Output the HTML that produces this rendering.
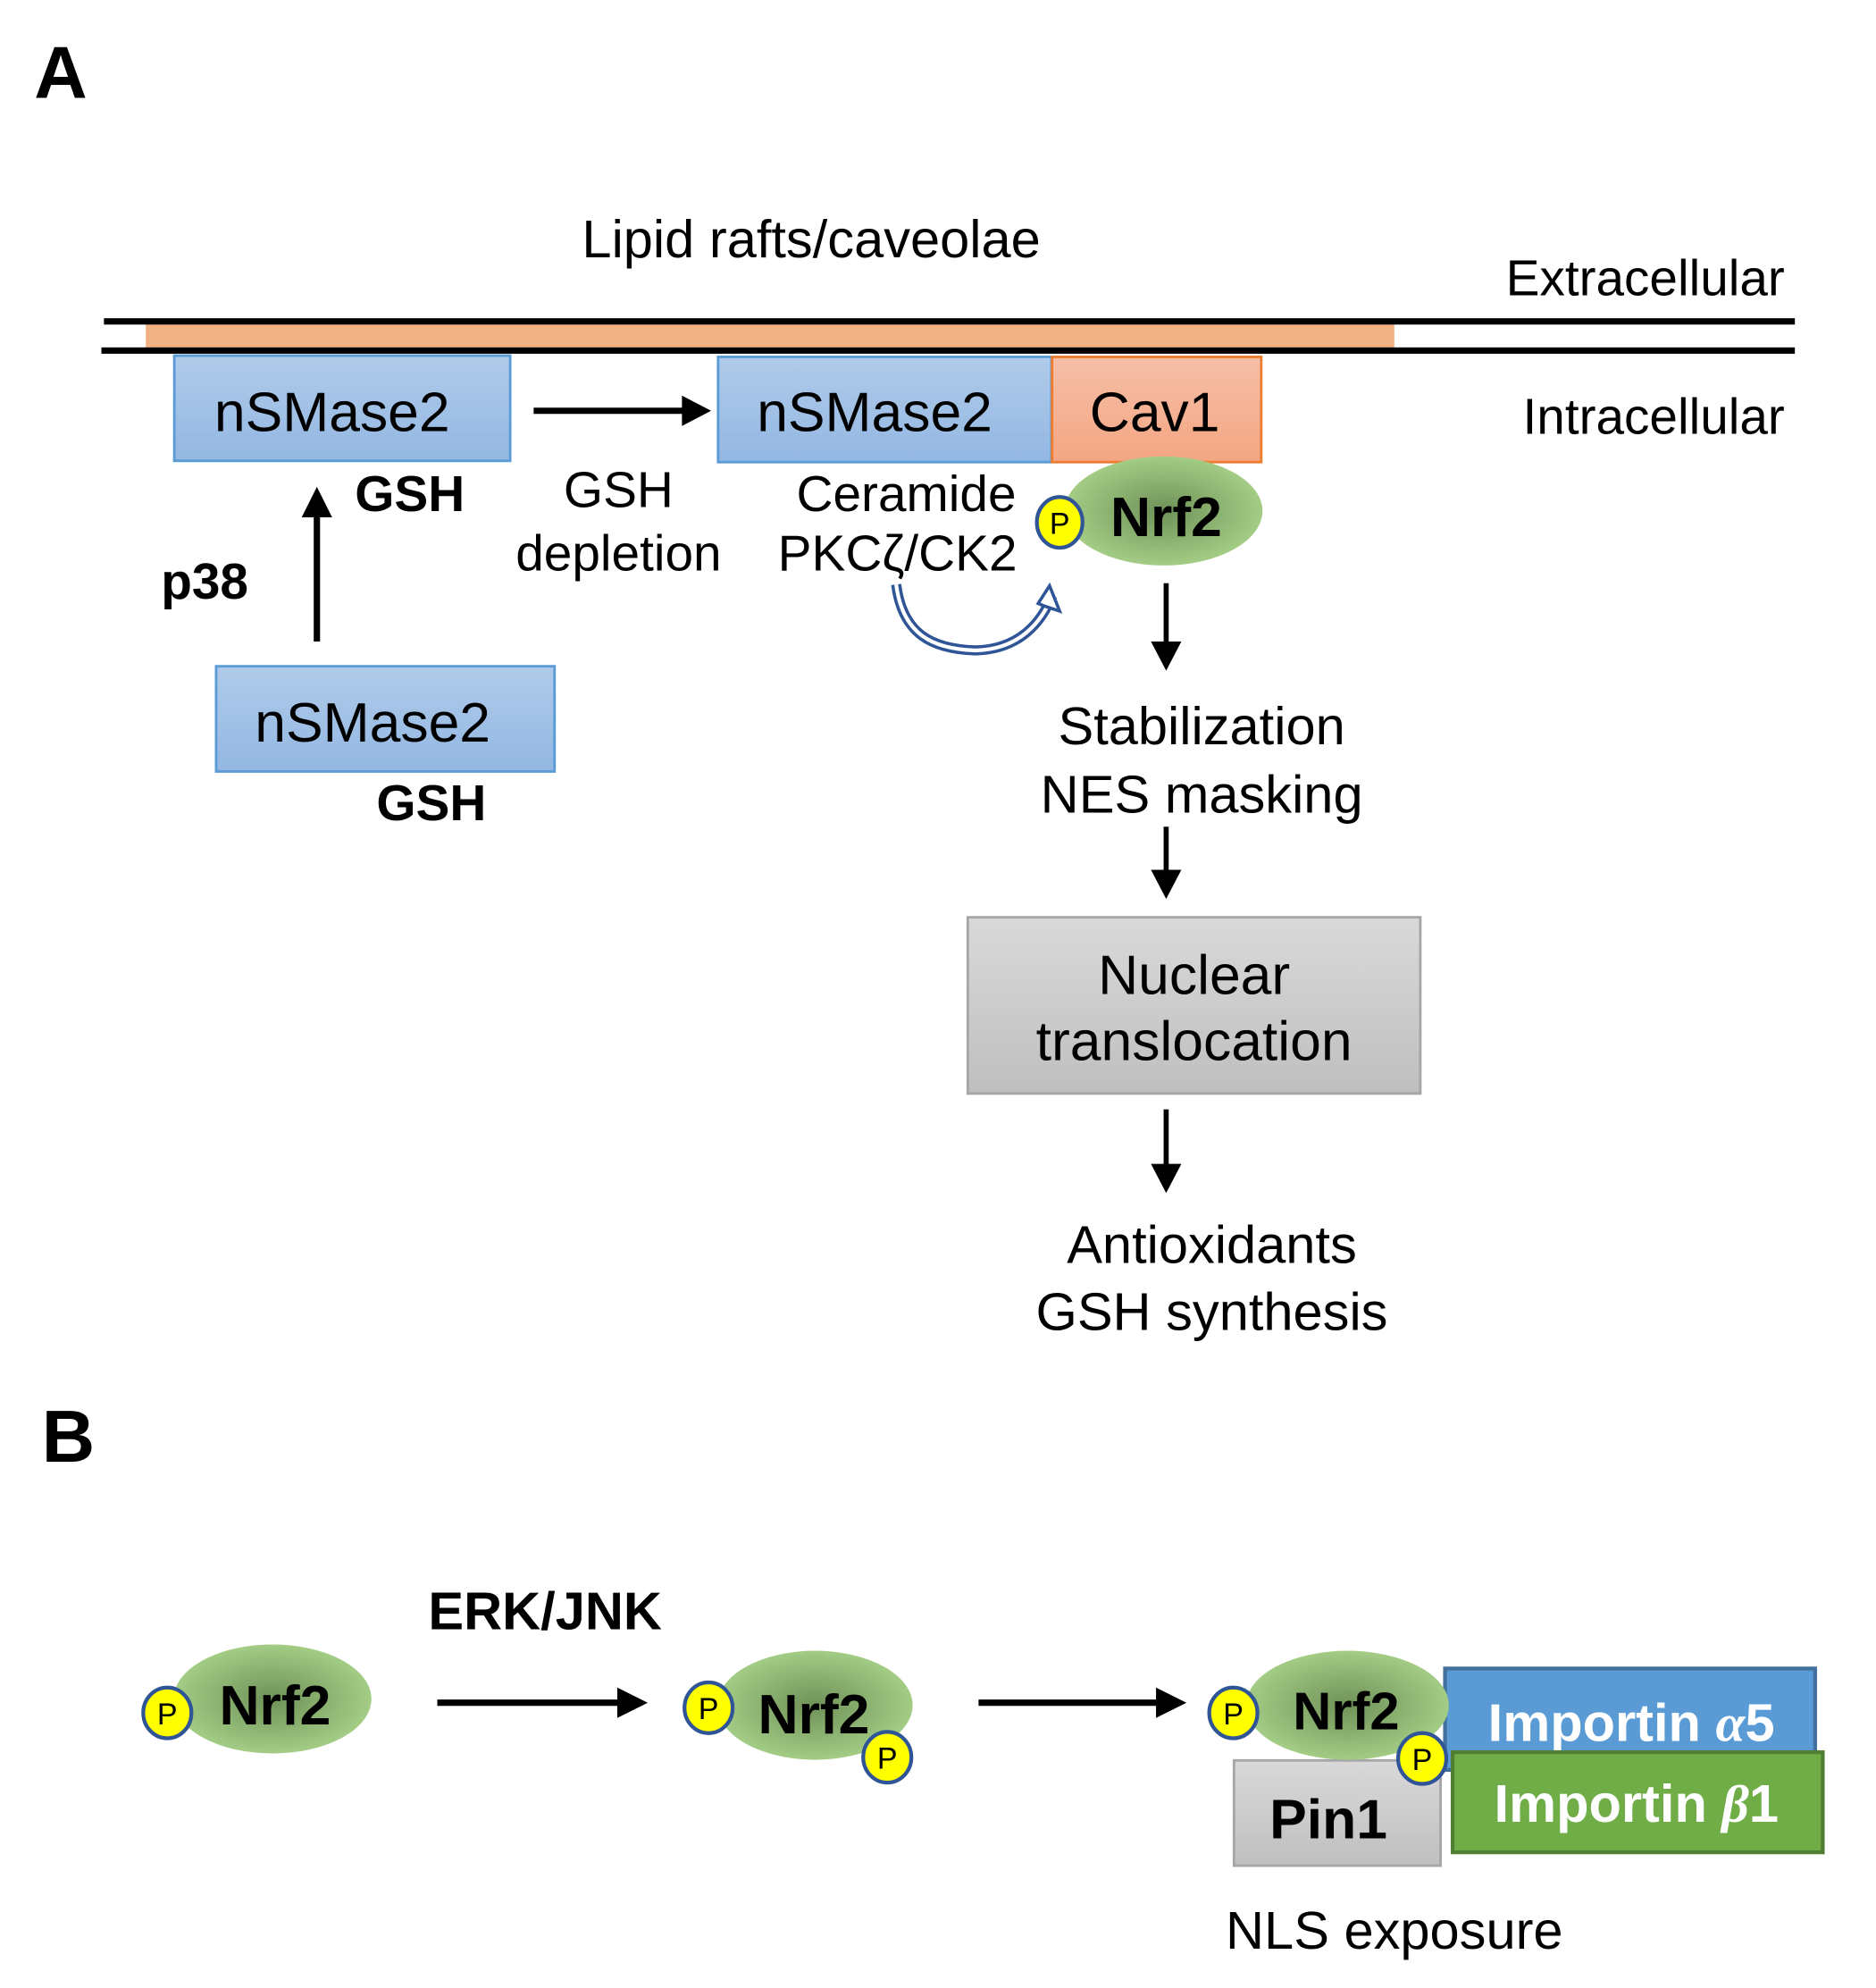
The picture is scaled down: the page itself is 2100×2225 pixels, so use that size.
<!DOCTYPE html>
<html><head><meta charset="utf-8"><style>html,body{margin:0;padding:0;background:#fff}svg{display:block}</style></head>
<body>
<svg width="2100" height="2225" viewBox="0 0 1480 1568" preserveAspectRatio="none" xmlns="http://www.w3.org/2000/svg" font-family="Liberation Sans, Arial, sans-serif">
<defs>
<linearGradient id="bl" x1="0" y1="0" x2="0" y2="1"><stop offset="0" stop-color="#b0cbea"/><stop offset="1" stop-color="#93b7e2"/></linearGradient>
<linearGradient id="or" x1="0" y1="0" x2="0" y2="1"><stop offset="0" stop-color="#f6bfa8"/><stop offset="1" stop-color="#f4a682"/></linearGradient>
<linearGradient id="gr" x1="0" y1="0" x2="0" y2="1"><stop offset="0" stop-color="#d9d9d9"/><stop offset="1" stop-color="#bfbfbf"/></linearGradient>
<radialGradient id="nr" cx="0.5" cy="0.5" r="0.5"><stop offset="0" stop-color="#6f9258"/><stop offset="1" stop-color="#a3cc85"/></radialGradient>
</defs>
<g font-weight="bold" font-size="58"><text x="27" y="77">A</text><text x="33" y="1153">B</text></g>

<text x="640" y="203" font-size="42" text-anchor="middle">Lipid rafts/caveolae</text>
<text x="1408" y="233" font-size="40" text-anchor="end">Extracellular</text>
<text x="1408" y="342" font-size="40" text-anchor="end">Intracellular</text>

<rect x="115" y="255" width="985" height="20" fill="#f2b183"/>
<rect x="82" y="251" width="1334" height="5" fill="#000"/>
<rect x="80" y="274" width="1336" height="5" fill="#000"/>

<rect x="137.5" y="280.5" width="265" height="83" fill="url(#bl)" stroke="#5b9bd5" stroke-width="2"/>
<text x="262" y="340" font-size="44" text-anchor="middle">nSMase2</text>
<rect x="566.5" y="281.5" width="263" height="83" fill="url(#bl)" stroke="#5b9bd5" stroke-width="2"/>
<text x="690" y="340" font-size="44" text-anchor="middle">nSMase2</text>
<rect x="830" y="281.5" width="165" height="83" fill="url(#or)" stroke="#ed7d31" stroke-width="2"/>
<text x="911" y="340" font-size="44" text-anchor="middle">Cav1</text>

<line x1="421" y1="324" x2="540" y2="324" stroke="#000" stroke-width="5"/>
<polygon points="538,312 561,324 538,336" fill="#000"/>

<text x="280" y="403" font-size="40" font-weight="bold">GSH</text>
<text x="488" y="400" font-size="40" text-anchor="middle">GSH</text>
<text x="488" y="450" font-size="40" text-anchor="middle">depletion</text>
<text x="715" y="403" font-size="40" text-anchor="middle">Ceramide</text>
<text x="708" y="450" font-size="40" text-anchor="middle">PKCζ/CK2</text>

<path d="M707,461 C712,500 735,512 770,513 C805,512 822,490 830,470" fill="none" stroke="#2f5597" stroke-width="8"/>
<path d="M707,461 C712,500 735,512 770,513 C805,512 822,490 830,470" fill="none" stroke="#fff" stroke-width="3"/>
<polygon points="828,462 836,482 824,478 819,476" fill="#fff" stroke="#2f5597" stroke-width="2.5"/>

<ellipse cx="918" cy="403" rx="78" ry="43" fill="url(#nr)"/>
<text x="920" y="423" font-size="44" font-weight="bold" text-anchor="middle">Nrf2</text>
<ellipse cx="836" cy="412" rx="18" ry="20" fill="#ffff00" stroke="#2f5597" stroke-width="3"/>
<text x="836" y="421" font-size="24" text-anchor="middle">P</text>

<text x="127" y="472" font-size="40" font-weight="bold">p38</text>
<line x1="250" y1="506" x2="250" y2="405" stroke="#000" stroke-width="5"/>
<polygon points="238,408 250,384 262,408" fill="#000"/>

<rect x="170.5" y="525.5" width="267" height="83" fill="url(#bl)" stroke="#5b9bd5" stroke-width="2"/>
<text x="294" y="585" font-size="44" text-anchor="middle">nSMase2</text>
<text x="297" y="647" font-size="40" font-weight="bold">GSH</text>

<g stroke="#000" stroke-width="4"><line x1="920" y1="460" x2="920" y2="510"/><line x1="920" y1="652" x2="920" y2="690"/><line x1="920" y1="875" x2="920" y2="922"/></g>
<g fill="#000"><polygon points="908,506 920,529 932,506"/><polygon points="908,686 920,709 932,686"/><polygon points="908,918 920,941 932,918"/></g>

<text x="948" y="587" font-size="42" text-anchor="middle">Stabilization</text>
<text x="948" y="641" font-size="42" text-anchor="middle">NES masking</text>
<rect x="763.5" y="723.5" width="357" height="139" fill="url(#gr)" stroke="#a6a6a6" stroke-width="2"/>
<text x="942" y="784" font-size="44" text-anchor="middle">Nuclear</text>
<text x="942" y="836" font-size="44" text-anchor="middle">translocation</text>
<text x="956" y="996" font-size="42" text-anchor="middle">Antioxidants</text>
<text x="956" y="1049" font-size="42" text-anchor="middle">GSH synthesis</text>

<ellipse cx="215" cy="1340" rx="78" ry="43" fill="url(#nr)"/>
<text x="217" y="1360" font-size="44" font-weight="bold" text-anchor="middle">Nrf2</text>
<ellipse cx="132" cy="1351" rx="19" ry="20" fill="#ffff00" stroke="#2f5597" stroke-width="3"/>
<text x="132" y="1360" font-size="24" text-anchor="middle">P</text>

<text x="430" y="1285" font-size="42" font-weight="bold" text-anchor="middle">ERK/JNK</text>
<line x1="345" y1="1343" x2="490" y2="1343" stroke="#000" stroke-width="5"/>
<polygon points="487,1331 511,1343 487,1355" fill="#000"/>

<ellipse cx="643" cy="1345" rx="77" ry="43" fill="url(#nr)"/>
<text x="642" y="1367" font-size="44" font-weight="bold" text-anchor="middle">Nrf2</text>
<ellipse cx="559" cy="1347" rx="19" ry="20" fill="#ffff00" stroke="#2f5597" stroke-width="3"/>
<text x="559" y="1356" font-size="24" text-anchor="middle">P</text>
<ellipse cx="700" cy="1386" rx="19" ry="20" fill="#ffff00" stroke="#2f5597" stroke-width="3"/>
<text x="700" y="1395" font-size="24" text-anchor="middle">P</text>

<line x1="772" y1="1343" x2="915" y2="1343" stroke="#000" stroke-width="5"/>
<polygon points="912,1331 936,1343 912,1355" fill="#000"/>

<rect x="973.5" y="1388.5" width="163" height="83" fill="url(#gr)" stroke="#a6a6a6" stroke-width="2"/>
<text x="1048" y="1450" font-size="44" font-weight="bold" text-anchor="middle">Pin1</text>
<rect x="1140" y="1316" width="292" height="80" fill="#5b9bd5" stroke="#41719c" stroke-width="3"/>
<text x="1287" y="1373" font-size="42" font-weight="bold" fill="#fff" text-anchor="middle">Importin <tspan font-family="Liberation Serif, serif" font-style="italic">α</tspan>5</text>
<rect x="1146" y="1382" width="292" height="79" fill="#70ad47" stroke="#507e32" stroke-width="3"/>
<text x="1291" y="1437" font-size="42" font-weight="bold" fill="#fff" text-anchor="middle">Importin <tspan font-family="Liberation Serif, serif" font-style="italic">β</tspan>1</text>

<ellipse cx="1063" cy="1345" rx="80" ry="43" fill="url(#nr)"/>
<text x="1062" y="1364" font-size="42" font-weight="bold" text-anchor="middle">Nrf2</text>
<ellipse cx="973" cy="1351" rx="19" ry="20" fill="#ffff00" stroke="#2f5597" stroke-width="3"/>
<text x="973" y="1360" font-size="24" text-anchor="middle">P</text>
<ellipse cx="1122" cy="1387" rx="19" ry="20" fill="#ffff00" stroke="#2f5597" stroke-width="3"/>
<text x="1122" y="1396" font-size="24" text-anchor="middle">P</text>

<text x="1100" y="1537" font-size="42" text-anchor="middle">NLS exposure</text>
</svg>
</body></html>
